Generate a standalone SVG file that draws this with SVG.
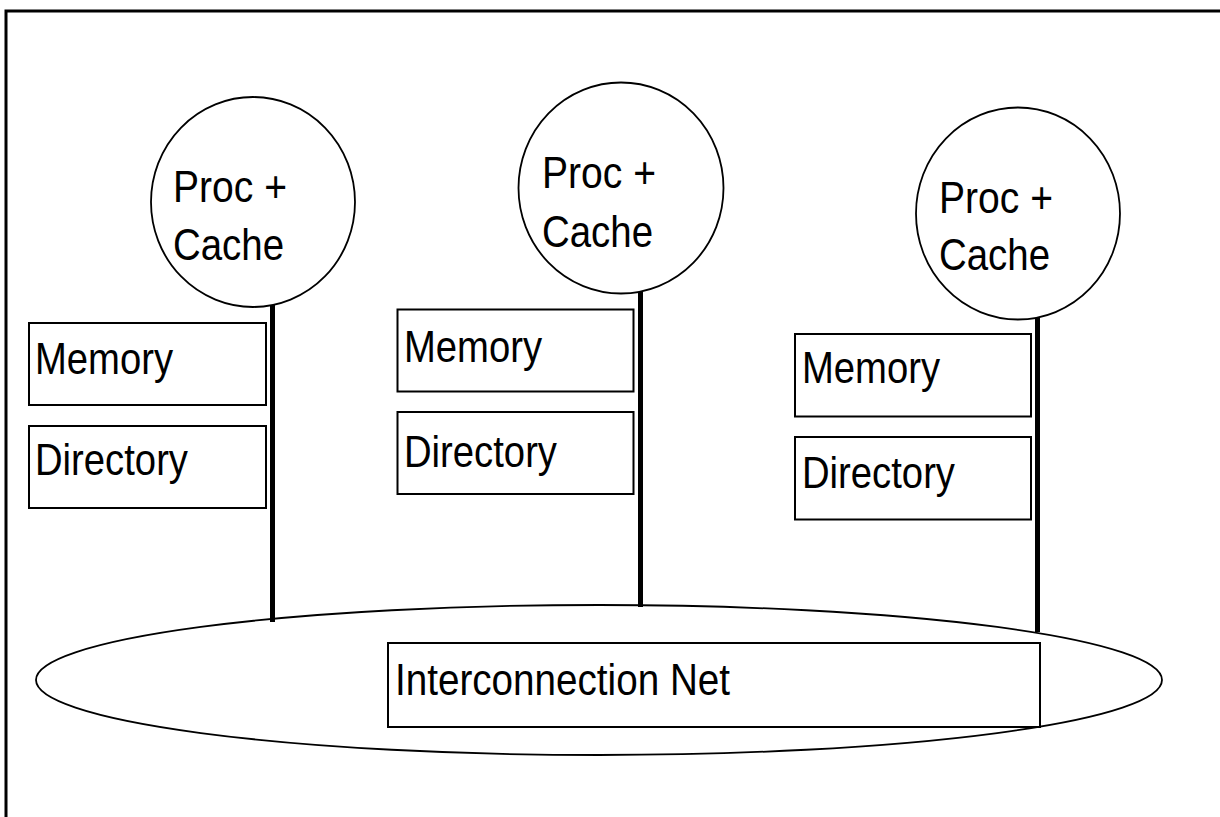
<svg xmlns="http://www.w3.org/2000/svg" width="1220" height="817" viewBox="0 0 1220 817">
<style>
.box{fill:#fff;stroke:#000;stroke-width:2}
.proc{fill:#fff;stroke:#000;stroke-width:1.8}
.bus{stroke:#000;stroke-width:5;fill:none}
.t{font-family:"Liberation Sans",Arial,sans-serif;font-size:45px;fill:#000}
</style>
<rect x="6" y="11" width="1230" height="830" fill="#fff" stroke="#000" stroke-width="3"/>
<g id="net">
<ellipse cx="599" cy="680" rx="563" ry="75" class="proc"/>
<rect x="388" y="643" width="652" height="84" class="box"/>
<text class="t" x="395" y="695" textLength="335" lengthAdjust="spacingAndGlyphs">Interconnection Net</text>
</g>
<g id="connectors">
<line x1="272.5" y1="304" x2="272.5" y2="622" class="bus"/>
<line x1="640.5" y1="291" x2="640.5" y2="607" class="bus"/>
<line x1="1037.5" y1="317" x2="1037.5" y2="632" class="bus"/>
</g>
<g id="proc1">
<ellipse cx="253" cy="202" rx="102" ry="105" class="proc"/>
<text class="t" x="173" y="202" textLength="114" lengthAdjust="spacingAndGlyphs">Proc +</text>
<text class="t" x="173" y="260" textLength="111" lengthAdjust="spacingAndGlyphs">Cache</text>
</g>
<g id="mem1">
<rect x="29" y="323" width="237" height="82" class="box"/>
<text class="t" x="35" y="374" textLength="138" lengthAdjust="spacingAndGlyphs">Memory</text>
</g>
<g id="dir1">
<rect x="29" y="426" width="237" height="82" class="box"/>
<text class="t" x="35" y="475" textLength="153" lengthAdjust="spacingAndGlyphs">Directory</text>
</g>
<g id="proc2">
<ellipse cx="621" cy="188" rx="102.5" ry="105.5" class="proc"/>
<text class="t" x="542" y="188" textLength="114" lengthAdjust="spacingAndGlyphs">Proc +</text>
<text class="t" x="542" y="247" textLength="111" lengthAdjust="spacingAndGlyphs">Cache</text>
</g>
<g id="mem2">
<rect x="397.5" y="309.5" width="236" height="82" class="box"/>
<text class="t" x="404" y="362" textLength="138" lengthAdjust="spacingAndGlyphs">Memory</text>
</g>
<g id="dir2">
<rect x="397.5" y="412" width="236" height="82" class="box"/>
<text class="t" x="404" y="467" textLength="153" lengthAdjust="spacingAndGlyphs">Directory</text>
</g>
<g id="proc3">
<ellipse cx="1018" cy="213.5" rx="102" ry="106" class="proc"/>
<text class="t" x="939" y="213" textLength="114" lengthAdjust="spacingAndGlyphs">Proc +</text>
<text class="t" x="939" y="270" textLength="111" lengthAdjust="spacingAndGlyphs">Cache</text>
</g>
<g id="mem3">
<rect x="795" y="334" width="236" height="82.5" class="box"/>
<text class="t" x="802" y="383" textLength="138" lengthAdjust="spacingAndGlyphs">Memory</text>
</g>
<g id="dir3">
<rect x="795" y="437" width="236" height="82.5" class="box"/>
<text class="t" x="802" y="488" textLength="153" lengthAdjust="spacingAndGlyphs">Directory</text>
</g>
</svg>
